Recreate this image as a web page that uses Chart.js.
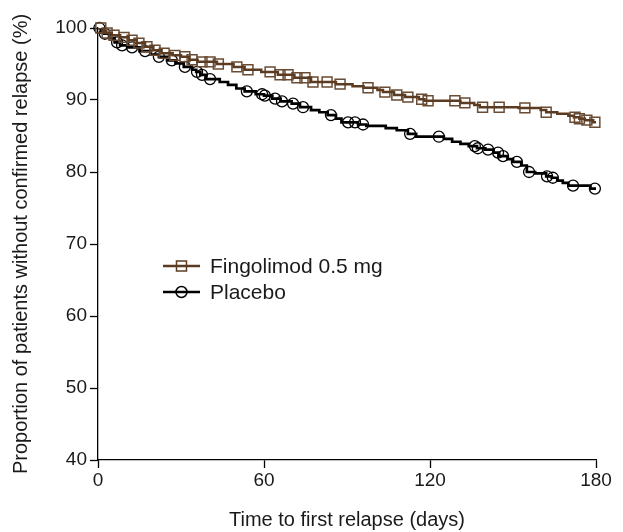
<!DOCTYPE html>
<html>
<head>
<meta charset="utf-8">
<script src="https://cdn.jsdelivr.net/npm/chart.js@4/dist/chart.umd.min.js"></script>
<style>
  html, body { margin: 0; padding: 0; background: #fff; }
  #wrap { width: 623px; height: 532px; }
</style>
</head>
<body>
<div id="wrap"><canvas id="chart1" width="623" height="532"></canvas></div>
<script>
// Curva Kaplan-Meier: dias e proporção (%) em cada degrau
const fingoDays = [0, 2, 3, 5, 8, 11, 14, 17, 20, 23, 27, 30, 33, 36, 43, 49, 53, 59, 65, 71, 77, 86, 92, 96, 101, 103, 107, 111, 116, 118, 131, 136, 138, 152, 160, 162, 166, 170, 172, 174, 176, 179, 180];
const fingoSurv = [100, 99.6, 99.3, 99.0, 98.7, 98.3, 97.9, 97.4, 96.9, 96.5, 96.2, 96.0, 95.6, 95.3, 95.0, 94.6, 94.2, 93.9, 93.5, 93.1, 92.5, 92.2, 91.9, 91.7, 91.4, 91.1, 90.7, 90.4, 90.1, 89.9, 89.6, 89.3, 89.0, 88.9, 88.6, 88.3, 88.1, 87.8, 87.6, 87.4, 87.2, 86.9, 86.9];
const fingoCensored = [1, 3.3, 5.8, 9.4, 12.3, 14.8, 17.7, 20.6, 23.9, 27.8, 31.4, 34, 37.6, 40.5, 43.5, 50.2, 54.2, 62.2, 65.8, 68.7, 71.9, 74.8, 77.7, 82.8, 87.5, 97.6, 103.7, 108, 112, 117, 119.3, 129, 132.6, 139, 145, 154.3, 162, 172.4, 174, 176.7, 179.6];

const placeboDays = [0, 1, 2, 4, 6, 8, 11, 15, 19, 22, 25, 28, 31, 34, 35.5, 37, 39, 44, 47, 50, 53, 57, 60, 63, 66, 70, 73, 77, 80, 83, 86, 88, 94, 97, 104, 108, 112, 115, 125, 128, 131, 134, 137, 140, 143, 145, 148, 150, 153, 155, 158, 162, 164, 166, 168, 170, 178, 180];
const placeboSurv = [100, 99.6, 99.2, 98.6, 98.0, 97.6, 97.3, 96.8, 96.3, 96.0, 95.5, 95.1, 94.6, 94.2, 93.9, 93.5, 92.9, 92.5, 92.1, 91.6, 91.2, 90.8, 90.6, 90.2, 89.8, 89.5, 89.0, 88.6, 88.3, 87.9, 87.4, 86.9, 86.6, 86.4, 86.1, 85.8, 85.3, 84.9, 84.6, 84.2, 83.9, 83.6, 83.3, 83.1, 82.7, 82.2, 81.8, 81.4, 80.9, 80.0, 79.8, 79.4, 79.2, 78.8, 78.5, 78.1, 77.7, 77.7];
const placeboCensored = [0.5, 2.5, 6.9, 8.7, 12.3, 17, 22, 26.7, 31.4, 35.8, 37.6, 40.5, 53.8, 59.3, 60.3, 64, 66.5, 70.5, 74.1, 84.2, 90.4, 92.9, 95.8, 112.8, 123.2, 136.2, 137.3, 141, 144.6, 146.4, 151.4, 155.8, 162.3, 164.4, 171.7, 179.6];

const seriesNames = ['Fingolimod 0.5 mg', 'Placebo'];
const xTicks = [0, 60, 120, 180];
const yTicks = [40, 50, 60, 70, 80, 90, 100];

const brown = '#5b3c22';
const black = '#000000';
const fontFamily = '"Liberation Sans", Arial, sans-serif';

function stepPoints(days, surv) {
    return days.map((d, i) => ({ x: d, y: surv[i] }));
}

// marca de censura fica em cima da curva
function censorPoints(censored, days, surv) {
    return censored.map(c => {
        let v = surv[0];
        for (let i = 0; i < days.length; i++) {
            if (days[i] <= c) v = surv[i];
        }
        return { x: c, y: v };
    });
}

const legendPlugin = {
    id: 'kmLegend',
    afterDraw(chart) {
        const ctx = chart.ctx;
        const area = chart.chartArea;
        const x0 = area.left + 65;
        const y0 = area.top + 238;
        const items = [
            { label: seriesNames[0], color: brown, style: 'rect' },
            { label: seriesNames[1], color: black, style: 'circle' }
        ];
        ctx.save();
        items.forEach((it, i) => {
            const y = y0 + i * 26;
            ctx.strokeStyle = it.color;
            ctx.lineWidth = 2.5;
            ctx.beginPath();
            ctx.moveTo(x0, y);
            ctx.lineTo(x0 + 37, y);
            ctx.stroke();
            ctx.lineWidth = 1.5;
            ctx.beginPath();
            if (it.style === 'rect') {
                ctx.rect(x0 + 13.5, y - 5, 10, 10);
            } else {
                ctx.arc(x0 + 18.5, y, 5.5, 0, Math.PI * 2);
            }
            ctx.stroke();
            ctx.fillStyle = '#1a1a1a';
            ctx.font = '21px ' + fontFamily;
            ctx.textBaseline = 'middle';
            ctx.textAlign = 'left';
            ctx.fillText(it.label, x0 + 47, y + 1);
        });
        ctx.restore();
    }
};

const config1 = {
    type: 'line',
    data: {
        datasets: [
            {
                label: seriesNames[0],
                data: stepPoints(fingoDays, fingoSurv),
                borderColor: brown,
                borderWidth: 2.5,
                stepped: true,
                pointRadius: 0,
                fill: false
            },
            {
                label: seriesNames[0] + ' censored',
                data: censorPoints(fingoCensored, fingoDays, fingoSurv),
                showLine: false,
                pointStyle: 'rect',
                pointRadius: 7,
                pointBorderColor: '#6a4b33',
                pointBackgroundColor: 'rgba(0,0,0,0)',
                pointBorderWidth: 1.5,
                clip: false
            },
            {
                label: seriesNames[1],
                data: stepPoints(placeboDays, placeboSurv),
                borderColor: black,
                borderWidth: 2.7,
                stepped: true,
                pointRadius: 0,
                fill: false
            },
            {
                label: seriesNames[1] + ' censored',
                data: censorPoints(placeboCensored, placeboDays, placeboSurv),
                showLine: false,
                pointStyle: 'circle',
                pointRadius: 5.5,
                pointBorderColor: black,
                pointBackgroundColor: 'rgba(0,0,0,0)',
                pointBorderWidth: 1.3,
                clip: false
            }
        ]
    },
    options: {
        responsive: false,
        animation: false,
        layout: { padding: { left: 0, right: 27, top: 28, bottom: 0 } },
        plugins: {
            legend: { display: false },
            tooltip: { enabled: false }
        },
        scales: {
            x: {
                type: 'linear',
                min: 0,
                max: 180,
                afterBuildTicks: s => { s.ticks = xTicks.map(v => ({ value: v })); },
                afterFit: s => { s.height = 72; },
                grid: { drawOnChartArea: false, tickLength: 8, color: black, tickWidth: 1.3 },
                border: { color: black, width: 1.3 },
                ticks: { color: '#1a1a1a', padding: 1, font: { size: 19, family: fontFamily } },
                title: {
                    display: true,
                    text: 'Time to first relapse (days)',
                    color: '#1a1a1a',
                    padding: { top: 0, bottom: 0 },
                    font: { size: 20, family: fontFamily }
                }
            },
            y: {
                min: 40,
                max: 100,
                afterBuildTicks: s => { s.ticks = yTicks.map(v => ({ value: v })); },
                afterFit: s => { s.width = 98; },
                grid: { drawOnChartArea: false, tickLength: 8, color: black, tickWidth: 1.3 },
                border: { color: black, width: 1.3 },
                ticks: { color: '#1a1a1a', padding: 3, font: { size: 19, family: fontFamily } },
                title: {
                    display: true,
                    text: 'Proportion of patients without confirmed relapse (%)',
                    color: '#1a1a1a',
                    padding: { top: 9, bottom: 0 },
                    font: { size: 20, family: fontFamily }
                }
            }
        }
    },
    plugins: [legendPlugin]
};

const chart1 = new Chart(document.getElementById('chart1'), config1);
</script>
</body>
</html>
